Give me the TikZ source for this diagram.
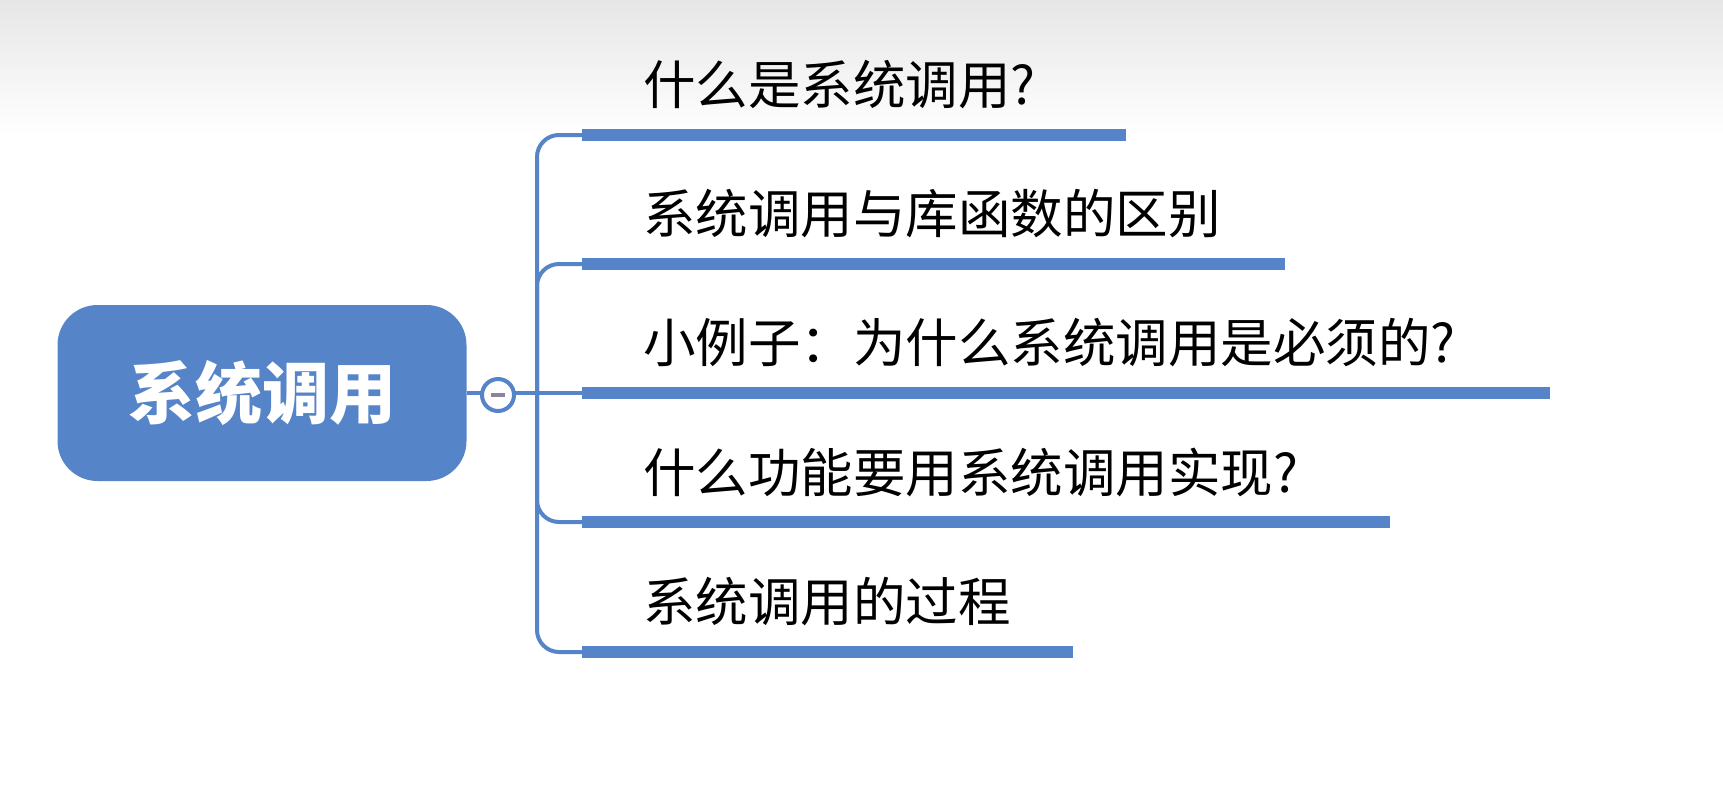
\documentclass[tikz,border=0pt]{standalone}
\usepackage{fontspec}
\newfontfamily\cjk{Noto Sans CJK SC}
\definecolor{mblue}{HTML}{5585C8}
\definecolor{topgrey}{HTML}{E6E6E6}
\begin{document}
\begin{tikzpicture}[x=1pt,y=-1pt,
  bar/.style={line width=12pt,mblue},
  branch/.style={line width=4pt,mblue,rounded corners=22pt},
  lbl/.style={anchor=west,font=\cjk\fontsize{52.5}{52.5}\selectfont,text=black,inner sep=0pt}]
\useasboundingbox (0,0) rectangle (1723,793);
\fill[white] (0,0) rectangle (1723,793);
\shade[top color=topgrey,bottom color=white] (0,0) rectangle (1723,135);
\node[fill=mblue,rounded corners=40pt,minimum width=409pt,minimum height=176pt,inner sep=0pt,
  text=white,font=\cjk\bfseries\fontsize{67}{67}\selectfont] (root) at (262,393) {系统调用};
\coordinate (t) at (537,393);
\foreach \i/\y/\xe/\txt in {1/135/1126/什么是系统调用?,2/264/1285/系统调用与库函数的区别,3/393/1550/小例子：为什么系统调用是必须的?,4/522/1390/什么功能要用系统调用实现?,5/652/1073/系统调用的过程}{
  \coordinate (s\i) at (582,\y);
  \coordinate (e\i) at (\xe,\y);
  \draw[bar] (s\i) -- (e\i);
  \node[lbl] (l\i) at (643,\y-50) {\txt};
}
\draw[branch] (s1) -| (t) |- (s5);
\draw[branch] (s2) -| (t);
\draw[branch] (s4) -| (t);
\draw[line width=4pt,mblue] (root.east) -- (s3);
\node[circle,draw=mblue,line width=4pt,fill=white,minimum size=32pt,inner sep=0pt] (c) at (498,395) {};
\draw[line width=4pt,color={rgb,255:red,140;green,130;blue,160}] ([xshift=-7pt]c.center) -- ([xshift=7pt]c.center);
\end{tikzpicture}
\end{document}
